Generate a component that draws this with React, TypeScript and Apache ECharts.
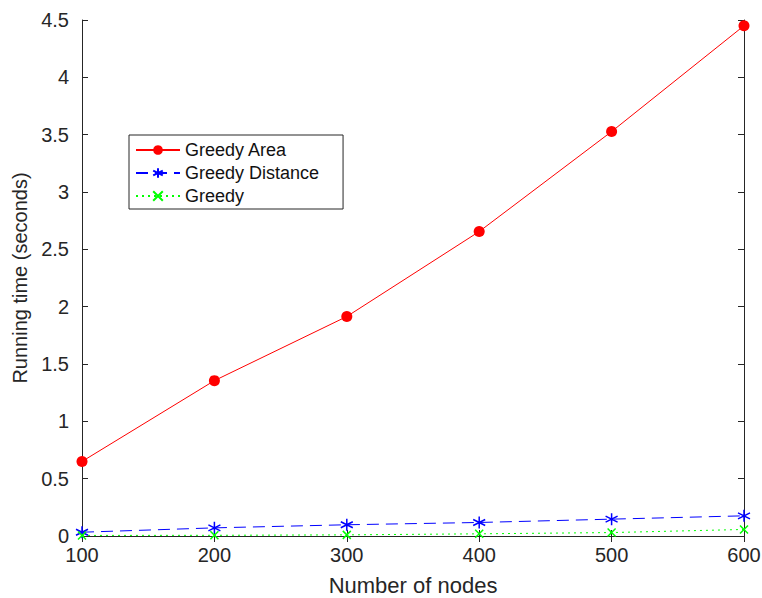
import React, { useEffect, useRef } from "react";
import * as echarts from "echarts";

const nodes = [100, 200, 300, 400, 500, 600];
const greedyArea = [0.65, 1.355, 1.914, 2.655, 3.527, 4.45];
const greedyDistance = [0.033, 0.071, 0.098, 0.118, 0.147, 0.176];
const greedy = [0.005, 0.006, 0.01, 0.019, 0.03, 0.057];

const FONT = "Liberation Sans, Arial, Helvetica, sans-serif";
const AX = "#262626";

export default function App() {
  const ref = useRef<HTMLDivElement>(null);
  useEffect(() => {
    const chart = echarts.init(ref.current!, null, { renderer: "svg" });
    const pair = (arr: number[]) => nodes.map((n, i) => [n, arr[i]]);
    const tickInside = { show: true, inside: true, length: 6, lineStyle: { color: AX, width: 1 } };
    chart.setOption({
      animation: false,
      backgroundColor: "#fff",
      textStyle: { fontFamily: FONT },
      grid: { left: 82, right: 18, top: 20, bottom: 62, containLabel: false, outerBoundsMode: "none" },
      legend: {
        orient: "vertical",
        left: 129,
        top: 135,
        backgroundColor: "#fff",
        borderColor: AX,
        borderWidth: 1,
        padding: [6, 24, 4, 6],
        itemGap: 5,
        itemWidth: 44,
        itemHeight: 12,
        textStyle: { fontFamily: FONT, fontSize: 18, color: "#111" },
        data: ["Greedy Area", "Greedy Distance", "Greedy"],
      },
      xAxis: [
        {
          type: "value",
          min: 100,
          max: 600,
          interval: 100,
          name: "Number of nodes",
          nameLocation: "middle",
          nameGap: 38,
          nameTextStyle: { fontSize: 22, color: AX, fontFamily: FONT },
          axisLine: { show: true, lineStyle: { color: AX } },
          axisTick: tickInside,
          axisLabel: { fontSize: 20, color: AX, margin: 9, fontFamily: FONT },
          splitLine: { show: false },
        },
        {
          type: "value",
          position: "top",
          min: 100,
          max: 600,
          interval: 100,
          axisLine: { show: true, lineStyle: { color: AX } },
          axisTick: tickInside,
          axisLabel: { show: false },
          splitLine: { show: false },
        },
      ],
      yAxis: [
        {
          type: "value",
          min: 0,
          max: 4.5,
          interval: 0.5,
          name: "Running time (seconds)",
          nameLocation: "middle",
          nameGap: 49,
          nameTextStyle: { fontSize: 20, color: AX, fontFamily: FONT },
          axisLine: { show: true, lineStyle: { color: AX } },
          axisTick: tickInside,
          axisLabel: { fontSize: 20, color: AX, margin: 13, fontFamily: FONT },
          splitLine: { show: false },
        },
        {
          type: "value",
          position: "right",
          min: 0,
          max: 4.5,
          interval: 0.5,
          axisLine: { show: true, lineStyle: { color: AX } },
          axisTick: tickInside,
          axisLabel: { show: false },
          splitLine: { show: false },
        },
      ],
      series: [
        {
          name: "Greedy Area",
          type: "line",
          data: pair(greedyArea),
          symbol: "circle",
          symbolSize: 11,
          lineStyle: { color: "#ff0000", width: 1 },
          itemStyle: { color: "#ff0000" },
        },
        {
          name: "Greedy Distance",
          type: "line",
          data: pair(greedyDistance),
          symbol: "path://M0,-5L0,5M-4.33,-2.5L4.33,2.5M-4.33,2.5L4.33,-2.5",
          symbolSize: 12,
          lineStyle: { color: "#0000ff", width: 1, type: [12, 7] },
          itemStyle: { color: "#0000ff", borderColor: "#0000ff", borderWidth: 1.5 },
        },
        {
          name: "Greedy",
          type: "line",
          data: pair(greedy),
          symbol: "path://M-1,-1L1,1M-1,1L1,-1",
          symbolSize: 8,
          lineStyle: { color: "#00ff00", width: 1, type: [2, 4] },
          itemStyle: { color: "#00ff00", borderColor: "#00ff00", borderWidth: 1.5 },
        },
      ],
    });
    return () => chart.dispose();
  }, []);
  return <div ref={ref} style={{ width: 762, height: 598, position: "absolute", left: 0, top: 0 }} />;
}
